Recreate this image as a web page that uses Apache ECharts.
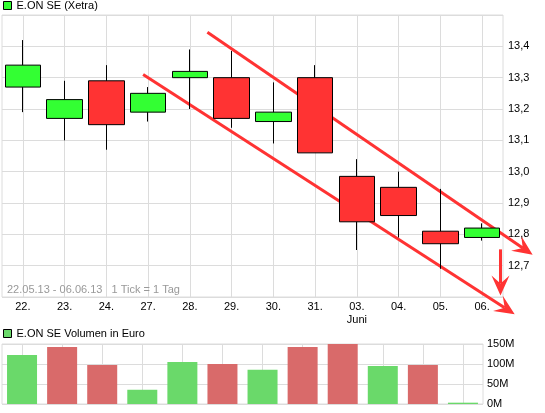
<!DOCTYPE html>
<html>
<head>
<meta charset="utf-8">
<script src="https://cdn.jsdelivr.net/npm/echarts@6/dist/echarts.min.js"></script>
<style>
html,body{margin:0;padding:0;background:#fff;}
#c{width:545px;height:413px;}
</style>
</head>
<body>
<div id="c"></div>
<script>
// ---- data ----
var days   = ['22.','23.','24.','27.','28.','29.','30.','31.','03.','04.','05.','06.'];
var open   = [13.27, 13.17, 13.29, 13.19, 13.30, 13.30, 13.16, 13.30, 12.985, 12.95, 12.81, 12.79];
var close  = [13.34, 13.23, 13.15, 13.25, 13.32, 13.17, 13.19, 13.06, 12.84, 12.86, 12.77, 12.82];
var low    = [13.19, 13.10, 13.07, 13.16, 13.20, 13.14, 13.09, 13.06, 12.75, 12.79, 12.69, 12.78];
var high   = [13.42, 13.29, 13.34, 13.27, 13.39, 13.385, 13.285, 13.34, 13.04, 13.00, 12.945, 12.835];
var volumeM = [122.6, 142.5, 97.8, 35.6, 105.2, 100.3, 85.4, 142.5, 150, 95.3, 97.8, 3.3];
var priceTicks = [12.7, 12.8, 12.9, 13.0, 13.1, 13.2, 13.3, 13.4];
var volumeTicksM = [0, 50, 100, 150];
// trend annotations: [categoryIndex, price] start -> end
var trendUpper = [[4.42, 13.445], [12.21, 12.735]];
var trendLower = [[2.88, 13.31], [11.78, 12.545]];
var trendDown  = [[11.44, 12.752], [11.44, 12.605]];

var FONT = 'Liberation Sans';
var FS = 11;
var GRID_COLOR = '#dcdcdc';
var UP = '#33ff33', DOWN = '#ff3333';
var VUP = '#6ad96a', VDOWN = '#d96a6a';

var candleData = days.map(function(d, i){ return [open[i], close[i], low[i], high[i]]; });
var volData = volumeM.map(function(v, i){
  var up = i === 0 ? true : close[i] >= close[i-1];
  return {value: v * 1e6, itemStyle: {color: up ? VUP : VDOWN}};
});
var labels = days.map(function(d){ return d === '03.' ? '03.\nJuni' : d; });

var chart = echarts.init(document.getElementById('c'), null, {renderer: 'canvas'});
chart.setOption({
  animation: false,
  backgroundColor: '#fff',
  textStyle: {fontFamily: FONT},
  legend: [{
    data: ['E.ON SE (Xetra)'],
    left: 3, top: 0, padding: 0,
    icon: 'rect', itemWidth: 8, itemHeight: 8,
    itemStyle: {color: UP, borderColor: '#000', borderWidth: 1},
    textStyle: {fontSize: FS, color: '#000', fontFamily: FONT},
    selectedMode: false
  }, {
    data: ['E.ON SE Volumen in Euro'],
    left: 3, top: 328, padding: 0,
    icon: 'rect', itemWidth: 8, itemHeight: 8,
    itemStyle: {color: VUP, borderColor: '#000', borderWidth: 1},
    textStyle: {fontSize: FS, color: '#000', fontFamily: FONT},
    selectedMode: false
  }],
  grid: [
    {left: 2, right: 42, top: 15, height: 282, show: true, borderColor: GRID_COLOR, borderWidth: 1},
    {left: 2, right: 62, top: 344, height: 60, show: true, borderColor: GRID_COLOR, borderWidth: 1}
  ],
  xAxis: [{
    type: 'category', gridIndex: 0, data: labels, boundaryGap: true,
    axisLine: {show: false}, axisTick: {show: false, alignWithLabel: true},
    axisLabel: {color: '#000', fontSize: FS, fontFamily: FONT, margin: 3, lineHeight: 13, interval: 0},
    splitLine: {show: true, alignWithLabel: true, interval: 0, lineStyle: {color: GRID_COLOR, width: 1}}
  }, {
    type: 'category', gridIndex: 1, data: days, boundaryGap: true,
    axisLine: {show: false}, axisTick: {show: false, alignWithLabel: true},
    axisLabel: {show: false},
    splitLine: {show: true, alignWithLabel: true, interval: 0, lineStyle: {color: GRID_COLOR, width: 1}}
  }],
  yAxis: [{
    type: 'value', gridIndex: 0, position: 'right', min: 12.6, max: 13.5, interval: 0.1,
    axisLine: {show: false}, axisTick: {show: false},
    axisLabel: {color: '#000', fontSize: FS, fontFamily: FONT, margin: 5,
      formatter: function(v){
        var r = Math.round(v * 10) / 10;
        return priceTicks.some(function(t){ return Math.abs(t - r) < 1e-6; }) ? r.toFixed(1).replace('.', ',') : '';
      }},
    splitLine: {show: true, lineStyle: {color: GRID_COLOR, width: 1}}
  }, {
    type: 'value', gridIndex: 1, position: 'right', min: 0, max: 150e6, interval: 50e6,
    axisLine: {show: false}, axisTick: {show: false},
    axisLabel: {color: '#000', fontSize: FS, fontFamily: FONT, margin: 4,
      formatter: function(v){
        var m = Math.round(v / 1e6);
        return volumeTicksM.indexOf(m) >= 0 ? m + 'M' : '';
      }},
    splitLine: {show: true, lineStyle: {color: GRID_COLOR, width: 1}}
  }],
  series: [{
    name: 'E.ON SE (Xetra)', type: 'candlestick', xAxisIndex: 0, yAxisIndex: 0,
    data: candleData, barWidth: 36,
    itemStyle: {color: UP, color0: DOWN, borderColor: '#000', borderColor0: '#000', borderWidth: 1}
  }, {
    name: 'E.ON SE Volumen in Euro', type: 'bar', xAxisIndex: 1, yAxisIndex: 1,
    data: volData, barWidth: 30
  }]
});

// map fractional category index + price to pixels through the chart's own axes
function toPx(pt){
  var a = chart.convertToPixel({xAxisIndex: 0, yAxisIndex: 0}, [0, pt[1]]);
  var b = chart.convertToPixel({xAxisIndex: 0, yAxisIndex: 0}, [1, pt[1]]);
  return [a[0] + pt[0] * (b[0] - a[0]), a[1]];
}
function arrow(seg){
  var p = toPx(seg[0]), q = toPx(seg[1]);
  var dx = q[0] - p[0], dy = q[1] - p[1];
  var L = Math.sqrt(dx*dx + dy*dy), ux = dx / L, uy = dy / L;
  var nx = -uy, ny = ux;
  var hl = 20, hw = 9, notch = 12;
  var base = [q[0] - ux*hl, q[1] - uy*hl];
  var nb = [q[0] - ux*notch, q[1] - uy*notch];
  return [{
    type: 'line', silent: true,
    shape: {x1: p[0], y1: p[1], x2: nb[0], y2: nb[1]},
    style: {stroke: DOWN, lineWidth: 3}
  }, {
    type: 'polygon', silent: true,
    shape: {points: [q, [base[0] + nx*hw, base[1] + ny*hw], nb, [base[0] - nx*hw, base[1] - ny*hw]]},
    style: {fill: DOWN}
  }];
}
var g = [].concat(arrow(trendUpper), arrow(trendLower), arrow(trendDown));
g.push({
  type: 'text', left: 7, top: 284, silent: true,
  style: {text: '22.05.13 - 06.06.13   1 Tick = 1 Tag', fill: '#999999', font: FS + 'px "Liberation Sans"'}
});
chart.setOption({graphic: g});
</script>
</body>
</html>
